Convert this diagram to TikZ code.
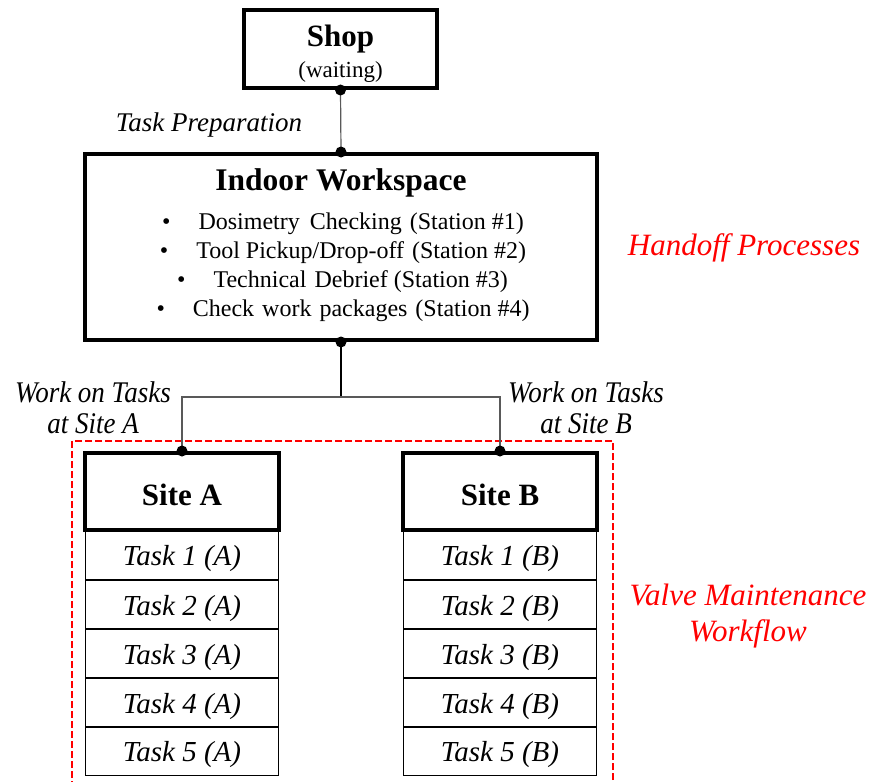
\documentclass[tikz,border=0pt]{standalone}
\usepackage{fontspec}
\setmainfont{Liberation Serif}
\begin{document}
\begin{tikzpicture}[x=1pt,y=-1pt,
  box/.style={draw,line width=4pt,inner sep=0pt},
  row/.style={draw,line width=1.4pt,inner sep=0pt,minimum width=193pt,minimum height=49pt},
  rowtext/.style={font=\fontsize{29}{34}\selectfont\itshape},
  ttl/.style={font=\fontsize{31}{36}\selectfont\bfseries},
  item/.style={font=\fontsize{24}{28}\selectfont},
  lbl/.style={font=\fontsize{27}{31}\selectfont\itshape,align=center},
  side/.style={font=\fontsize{30}{31}\selectfont\itshape,align=center,xscale=0.9},
  note/.style={font=\fontsize{31}{36}\selectfont\itshape,text=red,align=center},
  link/.style={line width=1.2pt,draw=black!65},
  dot/.style={circle,fill=black,inner sep=0pt,minimum size=11pt}]
\useasboundingbox (0,0) rectangle (874,781);
\clip (0,0) rectangle (874,781);

% work area frame
\draw[red,line width=2.4pt,dash pattern=on 7pt off 3pt] (72,441) rectangle (613,810);

% shop
\node[box,minimum width=193pt,minimum height=78pt] (shop) at (340.5,49) {};
\node[ttl] (shopT) at (340.5,39) {Shop};
\node[font=\fontsize{23}{28}\selectfont] (shopS) at (340.5,72) {(waiting)};

% indoor workspace
\node[box,minimum width=512pt,minimum height=186pt] (indoor) at (341,247) {};
\node[ttl,font=\fontsize{31.5}{36}\selectfont\bfseries] (indoorT) at (341,183) {Indoor Workspace};
\node[item] (st1) at (343,224) {\textbullet\hspace{28pt}Dosimetry\hspace{4pt} Checking\hspace{2pt} (Station \#1)};
\node[item] (st2) at (343,253) {\textbullet\hspace{28pt}Tool Pickup/Drop-off\hspace{2pt} (Station \#2)};
\node[item] (st3) at (342.5,282) {\textbullet\hspace{28pt}Technical\hspace{2pt} Debrief (Station \#3)};
\node[item] (st4) at (343,311) {\textbullet\hspace{28pt}Check\hspace{2pt} work\hspace{2pt} packages\hspace{2pt} (Station \#4)};

% task rows
\foreach \k/\y in {1/555,2/604.5,3/653.5,4/702.5,5/751}{
  \node[row] (a\k) at (182,\y) {};
  \node[row] (b\k) at (500,\y) {};
  \node[rowtext] at (182,\y+4) {Task \k{} (A)};
  \node[rowtext] at (500,\y+4) {Task \k{} (B)};
}

% sites
\node[box,minimum width=194pt,minimum height=77pt] (siteA) at (182,491.5) {};
\node[box,minimum width=194pt,minimum height=77pt] (siteB) at (500,491.5) {};
\node[ttl] (siteAT) at (182,495) {Site A};
\node[ttl] (siteBT) at (500,495) {Site B};

% connectors
\coordinate (j) at (341,397);
\draw[link] (shop.south) -- (indoor.north);
\draw[line width=1.3pt] (indoor.south) -- (j);
\draw[link] (siteA.north) |- (j) -| (siteB.north);
\node[dot] (d1) at (shop.south) {};
\node[dot] (d2) at (indoor.north) {};
\node[dot] (d3) at (indoor.south) {};
\node[dot] (d4) at (siteA.north) {};
\node[dot] (d5) at (siteB.north) {};

% labels
\node[lbl] (prep) at (209,125) {Task Preparation};
\node[side] (goA) at (93,408) {Work on Tasks\\at Site A};
\node[side] (goB) at (586,408) {Work on Tasks\\at Site B};
\node[note] (hand) at (744,248) {Handoff Processes};
\node[note] (valve) at (748,616) {Valve Maintenance\\Workflow};
\end{tikzpicture}
\end{document}
